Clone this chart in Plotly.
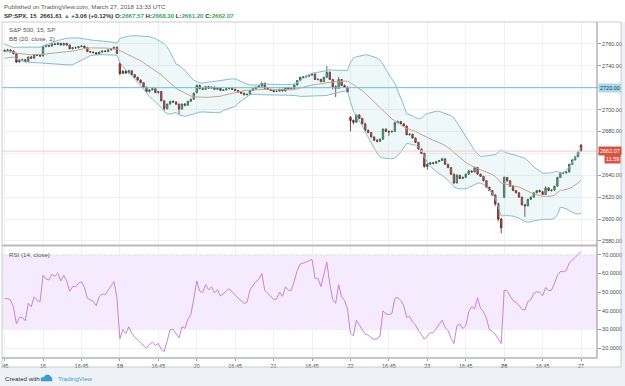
import plotly.graph_objects as go
import pandas as pd
import numpy as np

W, H = 625, 386

# ---------------- data ----------------
tick_idx = [0, 13, 26, 39, 52, 65, 78, 91, 104, 117, 130, 143, 156, 169, 182, 195]
tick_txt = [":45", "16", "16:45", "<b>19</b>", "16:45", "20", "16:45", "21", "16:45", "22",
            "16:45", "23", "16:45", "<b>26</b>", "16:45", "27"]

pre_close = [2760.0, 2759.0, 2758.5, 2757.0, 2755.0, 2754.0, 2752.0, 2750.0, 2749.0, 2748.5,
             2750.0, 2751.0, 2752.5, 2751.0, 2750.0, 2752.0, 2753.0, 2754.0, 2754.5]

opens = [
 2753.0, 2754.0, 2754.5, 2753.5, 2751.0, 2743.5, 2745.0, 2745.5, 2744.0, 2748.0, 2747.0, 2750.0, 2749.5,
 2749.0, 2757.5, 2758.5, 2758.0, 2760.0, 2759.5, 2760.5, 2759.0, 2760.5, 2759.0, 2755.5, 2756.5, 2756.5,
 2757.5, 2758.0, 2756.5, 2753.0, 2752.5, 2752.0, 2750.5, 2752.5, 2753.5, 2753.0, 2754.5, 2755.5, 2757.0,
 2742.0, 2733.0, 2735.0, 2733.5, 2735.5, 2732.0, 2729.5, 2727.0, 2724.5, 2720.5, 2716.5, 2718.0, 2719.0,
 2715.5, 2716.5, 2708.0, 2701.0, 2705.0, 2707.5, 2707.0, 2705.0, 2700.5, 2705.0, 2704.0, 2707.5, 2709.5,
 2715.5, 2722.0, 2719.0, 2718.5, 2721.0, 2719.5, 2720.5, 2718.5, 2719.5, 2717.5, 2718.0, 2719.0, 2719.5,
 2718.5, 2717.5, 2716.0, 2715.0, 2713.5, 2714.0, 2717.5, 2719.0, 2720.5, 2721.5, 2724.0, 2719.5, 2718.5,
 2717.5, 2716.5, 2716.8, 2718.5, 2717.0, 2720.0, 2719.0, 2719.2, 2722.5, 2726.5, 2729.5, 2729.8, 2730.5,
 2731.5, 2732.5, 2727.5, 2727.6, 2725.5, 2729.5, 2734.0, 2727.5, 2721.0, 2719.5, 2727.5, 2722.0, 2720.5,
 2693.0, 2690.0, 2688.5, 2695.0, 2692.0, 2687.0, 2681.0, 2679.0, 2675.0, 2672.0, 2671.0, 2673.0, 2682.0,
 2680.0, 2679.5, 2680.0, 2688.0, 2689.0, 2687.0, 2685.0, 2677.0, 2677.5, 2674.0, 2670.0, 2664.0, 2660.0,
 2648.0, 2650.0, 2651.5, 2651.0, 2652.5, 2653.5, 2655.0, 2650.0, 2647.0, 2641.0, 2633.0, 2640.0, 2637.0,
 2638.0, 2641.0, 2644.0, 2643.0, 2647.0, 2641.0, 2639.0, 2635.0, 2629.0, 2626.0, 2622.0, 2614.0, 2600.0,
 2620.0, 2638.0, 2635.0, 2630.0, 2626.0, 2624.0, 2620.0, 2613.0, 2612.0, 2618.0, 2620.0, 2624.0, 2626.0,
 2625.0, 2622.5, 2628.5, 2626.0, 2626.5, 2630.0, 2638.0, 2642.0, 2642.2, 2643.0, 2650.0, 2654.0, 2657.0,
 2667.57]

highs = [
 2755.0, 2755.5, 2755.0, 2754.0, 2751.5, 2746.0, 2746.5, 2746.0, 2748.5, 2749.0, 2750.5, 2751.0, 2750.0,
 2758.0, 2759.5, 2759.0, 2760.5, 2761.0, 2761.5, 2761.0, 2761.0, 2761.0, 2759.5, 2757.0, 2757.5, 2758.0,
 2759.0, 2758.5, 2757.0, 2753.5, 2753.0, 2752.5, 2753.0, 2754.0, 2754.0, 2755.0, 2756.0, 2757.5, 2757.5,
 2743.0, 2736.0, 2736.0, 2736.5, 2736.0, 2732.5, 2730.0, 2727.5, 2725.0, 2721.0, 2718.5, 2720.0, 2719.5,
 2717.0, 2717.0, 2708.5, 2705.5, 2708.0, 2708.5, 2707.5, 2705.5, 2705.5, 2706.0, 2708.0, 2710.0, 2715.5,
 2723.0, 2723.0, 2720.0, 2721.5, 2721.5, 2721.0, 2721.0, 2720.0, 2720.0, 2718.5, 2719.5, 2720.5, 2720.0,
 2719.0, 2718.0, 2716.5, 2715.5, 2714.5, 2718.0, 2719.5, 2721.0, 2722.0, 2725.0, 2724.5, 2720.0, 2719.0,
 2718.0, 2717.5, 2719.0, 2719.0, 2720.5, 2720.5, 2720.0, 2723.0, 2727.0, 2730.0, 2730.5, 2731.0, 2732.0,
 2733.0, 2733.0, 2728.5, 2728.0, 2730.0, 2740.0, 2735.0, 2728.0, 2722.0, 2730.0, 2728.0, 2723.0, 2721.0,
 2694.0, 2691.0, 2695.5, 2696.0, 2692.5, 2687.5, 2682.0, 2679.5, 2675.5, 2673.0, 2673.5, 2683.0, 2683.0,
 2681.0, 2681.0, 2689.0, 2690.0, 2689.5, 2687.5, 2685.5, 2678.5, 2678.0, 2674.5, 2670.5, 2664.5, 2660.5,
 2651.0, 2652.0, 2652.0, 2653.0, 2654.0, 2656.0, 2655.5, 2650.5, 2647.5, 2641.5, 2641.0, 2640.5, 2639.0,
 2641.5, 2645.0, 2644.5, 2648.0, 2647.5, 2641.5, 2639.5, 2635.5, 2629.5, 2626.5, 2622.5, 2615.0, 2601.0,
 2639.0, 2638.5, 2635.5, 2630.5, 2626.5, 2624.5, 2620.5, 2614.0, 2618.5, 2620.5, 2624.5, 2626.5, 2627.0,
 2625.5, 2630.0, 2629.0, 2627.0, 2630.5, 2638.5, 2642.5, 2643.0, 2643.5, 2650.5, 2654.5, 2657.5, 2662.0,
 2668.30]

lows = [
 2752.5, 2753.5, 2753.0, 2750.5, 2742.5, 2743.0, 2744.5, 2743.0, 2743.5, 2746.5, 2746.5, 2749.0, 2748.0,
 2748.5, 2757.0, 2757.0, 2757.5, 2759.0, 2759.0, 2758.5, 2758.5, 2758.5, 2755.0, 2755.0, 2755.5, 2756.0,
 2757.0, 2756.0, 2752.5, 2752.0, 2751.5, 2750.0, 2750.0, 2752.0, 2752.5, 2752.5, 2754.0, 2755.0, 2750.5,
 2731.5, 2732.5, 2732.5, 2733.0, 2731.5, 2729.0, 2726.5, 2724.0, 2720.0, 2716.0, 2715.5, 2717.5, 2715.0,
 2714.5, 2707.5, 2699.0, 2700.0, 2704.5, 2706.0, 2704.0, 2695.5, 2700.0, 2703.0, 2703.5, 2707.0, 2709.0,
 2715.0, 2718.5, 2718.0, 2718.0, 2719.0, 2719.0, 2718.0, 2718.0, 2717.0, 2717.0, 2717.5, 2718.5, 2718.0,
 2717.0, 2715.5, 2714.5, 2713.0, 2713.0, 2713.5, 2717.0, 2718.5, 2720.0, 2721.0, 2719.0, 2718.0, 2717.0,
 2716.0, 2716.0, 2716.5, 2716.5, 2716.5, 2718.5, 2718.5, 2719.0, 2722.0, 2726.0, 2729.0, 2729.0, 2730.0,
 2731.0, 2727.0, 2726.5, 2725.0, 2725.0, 2729.0, 2727.0, 2718.5, 2711.5, 2719.0, 2721.5, 2720.0, 2715.5,
 2680.0, 2686.5, 2688.0, 2691.5, 2686.5, 2680.5, 2678.5, 2674.5, 2671.5, 2670.0, 2670.5, 2672.5, 2679.5,
 2676.0, 2679.0, 2679.5, 2687.5, 2686.5, 2684.5, 2676.5, 2676.0, 2673.5, 2669.5, 2663.5, 2659.5, 2647.0,
 2645.0, 2649.5, 2650.0, 2650.5, 2652.0, 2653.0, 2649.5, 2646.5, 2640.5, 2632.0, 2632.5, 2636.5, 2636.5,
 2637.5, 2640.5, 2642.5, 2642.5, 2640.5, 2638.5, 2634.5, 2628.5, 2625.5, 2621.5, 2612.0, 2598.0, 2587.0,
 2619.0, 2634.0, 2629.5, 2625.5, 2623.5, 2619.5, 2612.5, 2602.0, 2611.5, 2617.5, 2619.5, 2623.5, 2624.5,
 2622.0, 2622.0, 2625.5, 2625.0, 2626.0, 2629.5, 2637.5, 2641.5, 2641.5, 2642.5, 2649.5, 2653.5, 2656.5,
 2661.20]

closes = [
 2754.0, 2754.5, 2753.5, 2751.0, 2743.5, 2745.0, 2745.5, 2744.0, 2748.0, 2747.0, 2750.0, 2749.5, 2749.0,
 2757.5, 2758.5, 2758.0, 2760.0, 2759.5, 2760.5, 2759.0, 2760.5, 2759.0, 2755.5, 2756.5, 2756.5, 2757.5,
 2758.0, 2756.5, 2753.0, 2752.5, 2752.0, 2750.5, 2752.5, 2753.5, 2753.0, 2754.5, 2755.5, 2757.0, 2751.5,
 2733.0, 2735.0, 2733.5, 2735.5, 2732.0, 2729.5, 2727.0, 2724.5, 2720.5, 2716.5, 2718.0, 2719.0, 2715.5,
 2716.5, 2708.0, 2701.0, 2705.0, 2707.5, 2707.0, 2705.0, 2700.5, 2705.0, 2704.0, 2707.5, 2709.5, 2715.0,
 2722.0, 2719.0, 2718.5, 2721.0, 2719.5, 2720.5, 2718.5, 2719.5, 2717.5, 2718.0, 2719.0, 2719.5, 2718.5,
 2717.5, 2716.0, 2715.0, 2713.5, 2714.0, 2717.5, 2719.0, 2720.5, 2721.5, 2724.0, 2719.5, 2718.5, 2717.5,
 2716.5, 2716.8, 2718.5, 2717.0, 2720.0, 2719.0, 2719.2, 2722.5, 2726.5, 2729.5, 2729.8, 2730.5, 2731.5,
 2732.5, 2727.5, 2727.6, 2725.5, 2729.5, 2734.0, 2727.5, 2721.0, 2719.5, 2727.5, 2722.0, 2720.5, 2716.0,
 2690.0, 2688.5, 2695.0, 2692.0, 2687.0, 2681.0, 2679.0, 2675.0, 2672.0, 2671.0, 2673.0, 2682.0, 2680.0,
 2679.5, 2680.0, 2688.0, 2689.0, 2687.0, 2685.0, 2677.0, 2677.5, 2674.0, 2670.0, 2664.0, 2660.0, 2648.0,
 2650.0, 2651.5, 2651.0, 2652.5, 2653.5, 2655.0, 2650.0, 2647.0, 2641.0, 2633.0, 2640.0, 2637.0, 2638.0,
 2641.0, 2644.0, 2643.0, 2647.0, 2641.0, 2639.0, 2635.0, 2629.0, 2626.0, 2622.0, 2614.0, 2600.0, 2592.0,
 2638.0, 2635.0, 2630.0, 2626.0, 2624.0, 2620.0, 2613.0, 2612.0, 2618.0, 2620.0, 2624.0, 2626.0, 2625.0,
 2622.5, 2628.5, 2626.0, 2626.5, 2630.0, 2638.0, 2642.0, 2642.2, 2643.0, 2650.0, 2654.0, 2657.0, 2661.5,
 2662.07]

rsi = [
 46.5, 46.5, 45.8, 42.0, 33.0, 36.5, 36.5, 34.7, 44.0, 42.2, 47.5, 45.5, 44.9,
 59.0, 57.0, 56.5, 59.5, 58.5, 60.0, 56.0, 59.0, 56.0, 50.5, 52.9, 52.9, 54.7,
 55.6, 52.5, 46.7, 46.0, 45.0, 42.7, 47.5, 49.0, 48.5, 51.0, 53.5, 55.6, 47.0,
 25.0, 30.0, 27.8, 31.5, 28.0, 26.0, 24.5, 23.2, 21.5, 20.0, 22.0, 23.3, 21.5,
 22.5, 19.5, 18.3, 24.0, 30.0, 30.0, 28.0, 25.5, 31.5, 30.6, 35.5, 38.0, 46.5,
 56.0, 50.5, 49.8, 54.0, 51.2, 52.8, 49.6, 51.2, 48.0, 49.0, 50.8, 51.8, 50.0,
 48.5, 46.8, 45.5, 44.0, 44.5, 51.0, 53.5, 55.5, 56.8, 60.0, 51.0, 49.5, 48.0,
 46.1, 46.3, 50.0, 47.8, 52.8, 51.0, 51.0, 56.0, 61.5, 65.0, 65.3, 66.0, 66.8,
 67.5, 57.4, 57.4, 53.0, 60.0, 66.0, 54.5, 46.0, 44.0, 54.0, 47.5, 45.5, 41.0,
 28.0, 26.7, 35.0, 32.5, 30.0, 27.6, 27.1, 25.5, 24.8, 25.0, 26.5, 40.0, 38.3,
 38.0, 38.5, 46.5, 47.2, 45.5, 43.0, 36.5, 37.0, 34.0, 32.5, 29.5, 27.5, 24.8,
 26.5, 28.3, 28.3, 30.5, 33.0, 35.0, 31.2, 29.5, 25.5, 22.5, 32.0, 33.0, 30.5,
 32.0, 39.5, 42.2, 41.0, 47.0, 41.3, 39.5, 36.0, 30.0, 29.0, 27.5, 25.0, 22.5,
 51.1, 50.7, 48.0, 45.5, 44.5, 43.0, 40.8, 40.5, 44.9, 45.8, 49.4, 50.2, 50.0,
 48.0, 52.5, 50.7, 51.0, 54.5, 59.0, 61.0, 60.9, 61.5, 65.5, 66.8, 68.5, 70.2,
 71.6]

price_ticks = [2580, 2600, 2620, 2640, 2660, 2680, 2700, 2720, 2740, 2760]
price_tick_txt = ["2580.00", "2600.00", "2620.00", "2640.00", "", "2680.00", "2700.00", "",
                  "2740.00", "2760.00"]
rsi_ticks = [20, 30, 40, 50, 60, 70]
hline_level = 2720.0
last_close = 2662.07

# ---------------- indicators ----------------
xs = list(range(len(closes)))
full = pd.Series(pre_close + closes)
basis = full.rolling(20).mean()
dev = full.rolling(20).std(ddof=0)
n_pre = len(pre_close)
bb_mid = basis.iloc[n_pre:].tolist()
bb_up = (basis + 2 * dev).iloc[n_pre:].tolist()
bb_lo = (basis - 2 * dev).iloc[n_pre:].tolist()

# ---------------- geometry ----------------
def fx(px):
    return px / W

def fy(py):
    return 1 - py / H

X0, X1 = 2, 597
MAIN_T, MAIN_B = 22, 245
RSI_T, RSI_B = 247, 358

FONT = "Liberation Sans, Arial, sans-serif"

fig = go.Figure()

fig.add_trace(go.Scatter(x=xs, y=bb_up, mode="lines", line=dict(color="#8cbad0", width=1),
                         xaxis="x2", yaxis="y", hoverinfo="skip", showlegend=False))
fig.add_trace(go.Scatter(x=xs, y=bb_lo, mode="lines", line=dict(color="#8cbad0", width=1),
                         fill="tonexty", fillcolor="rgba(150,205,215,0.15)",
                         xaxis="x2", yaxis="y", hoverinfo="skip", showlegend=False))
fig.add_trace(go.Scatter(x=xs, y=bb_mid, mode="lines", line=dict(color="#c9a290", width=1),
                         xaxis="x2", yaxis="y", hoverinfo="skip", showlegend=False))

fig.add_trace(go.Candlestick(
    x=xs, open=opens, high=highs, low=lows, close=closes,
    increasing=dict(fillcolor="#6ba583", line=dict(color="#225437", width=0.8)),
    decreasing=dict(fillcolor="#d75442", line=dict(color="#5b1a13", width=0.8)),
    whiskerwidth=0, xaxis="x2", yaxis="y", hoverinfo="skip", showlegend=False))

fig.add_trace(go.Scatter(x=xs, y=rsi, mode="lines", line=dict(color="#c882da", width=1),
                         xaxis="x", yaxis="y2", hoverinfo="skip", showlegend=False))

grid = "#f0f0f0"
fig.update_layout(
    width=W, height=H, margin=dict(l=0, r=0, t=0, b=0),
    paper_bgcolor="#ffffff", plot_bgcolor="rgba(0,0,0,0)",
    font=dict(family=FONT, color="#4a4a4a"),
    boxgap=0.3,
    xaxis=dict(domain=[fx(X0), fx(X1)], range=[-0.88, 200.4], anchor="y2",
               tickmode="array", tickvals=tick_idx, ticktext=tick_txt,
               tickfont=dict(size=5.5, color="#4a4a4a"), ticks="outside", ticklen=2,
               tickcolor="#9a9a9a", showgrid=True, gridcolor=grid, gridwidth=1,
               zeroline=False, showline=False, fixedrange=True),
    xaxis2=dict(domain=[fx(X0), fx(X1)], range=[-0.88, 200.4], anchor="y", matches="x",
                tickmode="array", tickvals=tick_idx, showticklabels=False, ticks="",
                showgrid=True, gridcolor=grid, gridwidth=1, zeroline=False, showline=False,
                rangeslider=dict(visible=False), fixedrange=True),
    yaxis=dict(domain=[fy(MAIN_B), fy(MAIN_T)], range=[2576.3, 2780.0], anchor="x2", side="right",
               tickmode="array", tickvals=price_ticks, ticktext=price_tick_txt,
               tickfont=dict(size=5.5, color="#4a4a4a"), ticks="outside", ticklen=3,
               tickcolor="#9a9a9a", showgrid=True, gridcolor=grid, zeroline=False,
               showline=False, fixedrange=True),
    yaxis2=dict(domain=[fy(RSI_B), fy(RSI_T)], range=[14.8, 74.1], anchor="x", side="right",
                tickmode="array", tickvals=rsi_ticks, ticktext=[f"{v:.4f}" for v in rsi_ticks],
                tickfont=dict(size=5.5, color="#4a4a4a"), ticks="outside", ticklen=3,
                tickcolor="#9a9a9a", showgrid=True, gridcolor=grid, zeroline=False,
                showline=False, fixedrange=True),
)

shapes = []
shapes.append(dict(type="rect", xref="paper", yref="paper", x0=0, x1=1, y0=0, y1=fy(367),
                   fillcolor="#eef1f5", line=dict(width=0), layer="below"))
shapes.append(dict(type="rect", xref="paper", yref="paper", x0=fx(621), x1=1, y0=0, y1=fy(22),
                   fillcolor="#eef1f5", line=dict(width=0), layer="below"))
shapes.append(dict(type="rect", xref="paper", yref="y2", x0=fx(X0), x1=fx(X1), y0=30, y1=70,
                   fillcolor="rgba(153,21,255,0.09)", line=dict(width=0), layer="below"))
for lv in (30, 70):
    shapes.append(dict(type="line", xref="paper", yref="y2", x0=fx(X0), x1=fx(X1), y0=lv, y1=lv,
                       line=dict(color="#c8c0cc", width=1, dash="dot"), layer="below"))
shapes.append(dict(type="line", xref="paper", yref="y", x0=fx(X0), x1=fx(X1), y0=hline_level,
                   y1=hline_level, line=dict(color="#6cc0d8", width=1)))
shapes.append(dict(type="line", xref="paper", yref="y", x0=fx(X0), x1=fx(X1), y0=last_close,
                   y1=last_close, line=dict(color="#f6c9c2", width=1)))
frame = "#b8bbc0"
shapes.append(dict(type="rect", xref="paper", yref="paper", x0=fx(2), x1=fx(621), y0=fy(367),
                   y1=fy(22), line=dict(color="#c9ccd1", width=1), fillcolor="rgba(0,0,0,0)"))
shapes.append(dict(type="line", xref="paper", yref="paper", x0=fx(X0), x1=fx(X1), y0=fy(245.5),
                   y1=fy(245.5), line=dict(color=frame, width=2)))
shapes.append(dict(type="line", xref="paper", yref="paper", x0=fx(X0), x1=fx(X1), y0=fy(RSI_B),
                   y1=fy(RSI_B), line=dict(color="#8a8d92", width=1)))
shapes.append(dict(type="line", xref="paper", yref="paper", x0=fx(X1), x1=fx(X1), y0=fy(RSI_B),
                   y1=fy(MAIN_T), line=dict(color="#8a8d92", width=1)))
shapes.append(dict(type="path", xref="paper", yref="paper",
                   path=(f"M {fx(41)},{fy(381)} L {fx(52)},{fy(381)} L {fx(52)},{fy(378)} "
                         f"L {fx(49)},{fy(375)} L {fx(46)},{fy(375)} L {fx(44)},{fy(377)} "
                         f"L {fx(41)},{fy(378)} Z"),
                   fillcolor="#3d9bd6", line=dict(color="#3d9bd6", width=0.5)))
fig.update_layout(shapes=shapes)

ann = []
def text(x, y, s, size=6.5, color="#4a4a4a", anchor="left"):
    ann.append(dict(x=fx(x), y=fy(y), xref="paper", yref="paper", text=s, showarrow=False,
                    xanchor=anchor, yanchor="middle", font=dict(size=size, color=color, family=FONT)))

text(2, 6, "Published on TradingView.com, March 27, 2018 13:33 UTC", size=6.15, color="#555555")
g = "#3aa757"
text(2, 15.5,
     "<b>SP:SPX, 15  2661.61 <span style='color:%s'>▲</span> +3.06 (+0.12%%) "
     "O:<span style='color:%s'>2667.57</span> H:<span style='color:%s'>2668.30</span> "
     "L:<span style='color:%s'>2661.20</span> C:<span style='color:%s'>2662.07</span></b>" % (g, g, g, g, g),
     size=6.1, color="#333333")
text(7, 29.5, "S&amp;P 500, 15, SP", size=6.2, color="#555555")
text(7, 38, "BB (20, close, 2)", size=6.2, color="#555555")
text(7, 254.5, "RSI (14, close)", size=6.2, color="#555555")
text(3, 378, "Created with", size=6.2, color="#333333")
text(56, 378, "TradingView", size=6.2, color="#3d9bd6")

ann.append(dict(x=fx(598), y=hline_level, xref="paper", yref="y", text="2720.00", showarrow=False,
                xanchor="left", yanchor="middle", font=dict(size=5.5, color="#1e3a46", family=FONT),
                bgcolor="#a9d9ea", borderpad=1))
ann.append(dict(x=fx(598), y=last_close, xref="paper", yref="y", text="2662.07", showarrow=False,
                xanchor="left", yanchor="middle", font=dict(size=5.5, color="#ffffff", family=FONT),
                bgcolor="#d75442", borderpad=1))
ann.append(dict(x=fx(604), y=fy(159), xref="paper", yref="paper", text="11:59", showarrow=False,
                xanchor="left", yanchor="middle", font=dict(size=5.5, color="#ffffff", family=FONT),
                bgcolor="#d75442", borderpad=1))
fig.update_layout(annotations=ann)

fig.write_html("out.html")
